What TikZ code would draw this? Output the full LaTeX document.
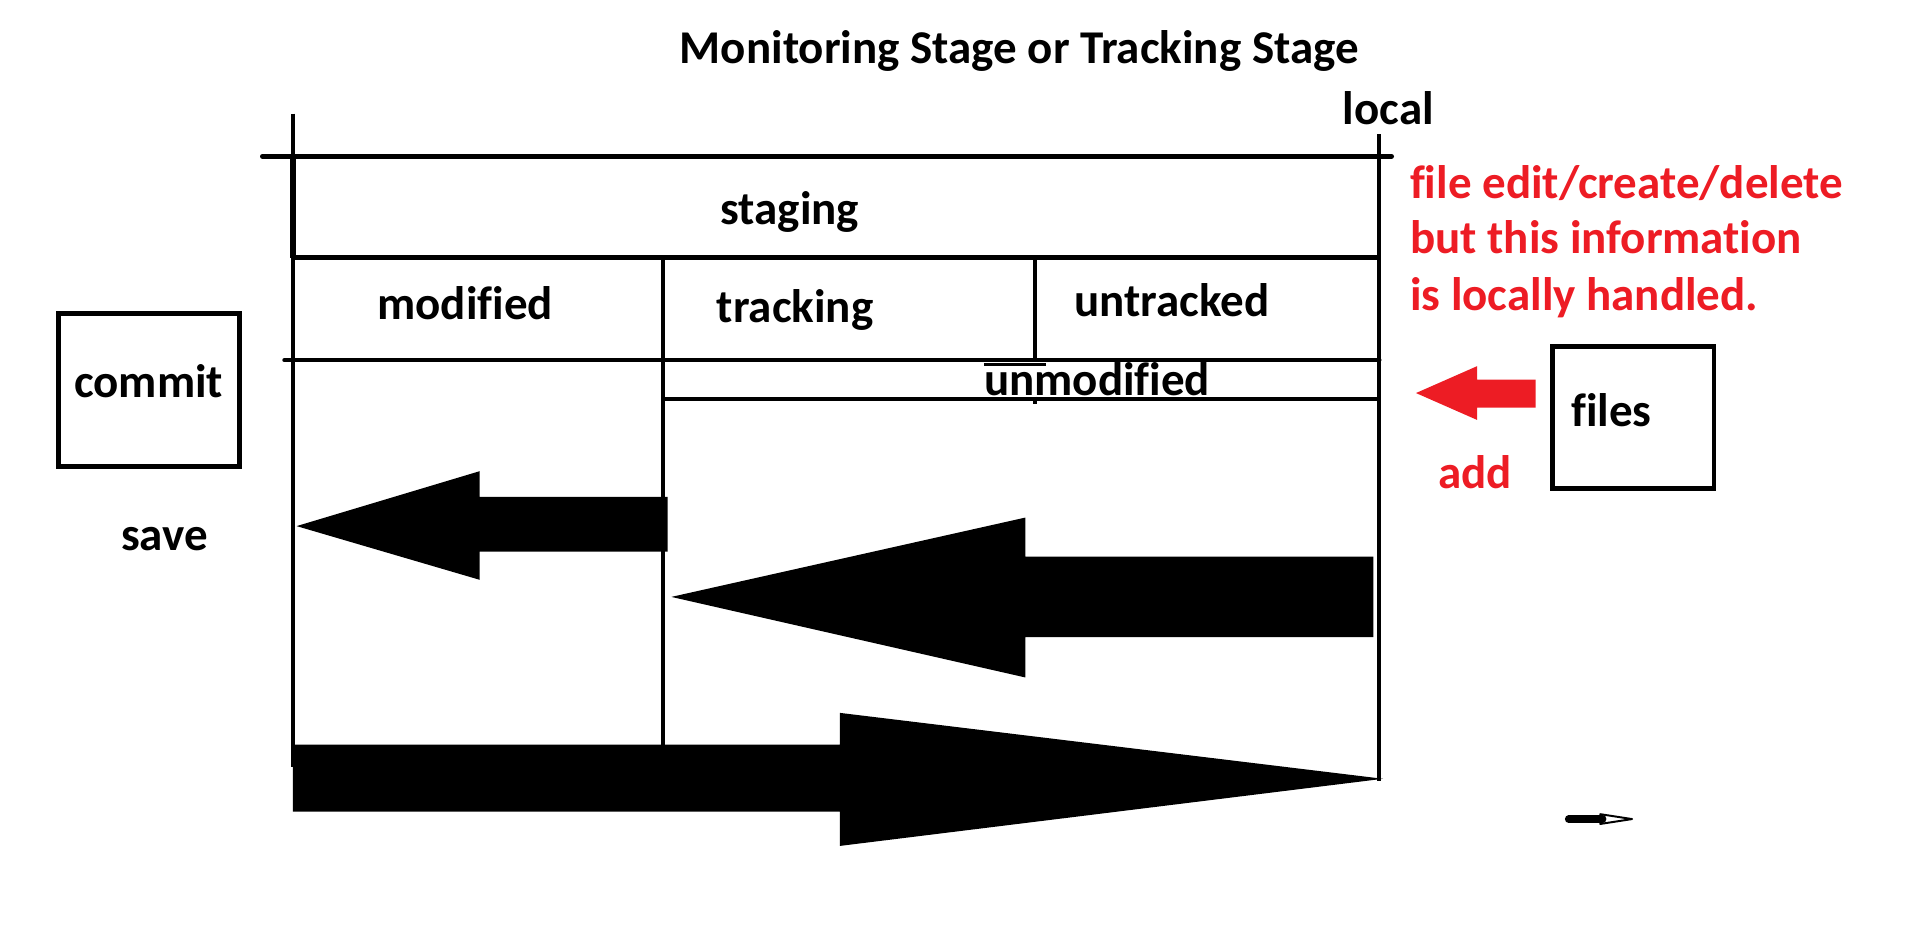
\documentclass[tikz,border=0pt]{standalone}
\usepackage{fontspec}
\usetikzlibrary{calc}
\setmainfont{Carlito}[Ligatures=NoCommon]
\definecolor{pred}{HTML}{ED1C24}
\begin{document}
\begin{tikzpicture}[x=1pt,y=-1pt,
  lbl/.style={font=\fontsize{38.5}{40}\selectfont\bfseries, inner sep=0pt, anchor=base west},
  redlbl/.style={lbl, text=pred},
  ln/.style={line width=3.2pt},
  heavy/.style={line width=4pt},
  boxln/.style={line width=3.8pt},
  fatarrow/.style={fill=black}
]
\useasboundingbox (0,0) rectangle (1568,759);

% texts
\node[lbl, anchor=base] (title) at (835,52) {Monitoring Stage or Tracking Stage};
\node[lbl] (local) at (1100,102) {local};
\node[lbl] (staging) at (590,184) {staging};
\node[lbl] (modified) at (309,262) {modified};
\node[lbl] (tracking) at (587,264) {tracking};
\node[lbl] (untracked) at (880,259) {untracked};
\node[lbl] (unmodified) at (806,324) {unmodified};
\node[lbl] (commit) at (60.6,326) {commit};
\node[lbl] (save) at (99,451) {save};
\node[lbl] (files) at (1287,349) {files};
\node[redlbl] (add) at (1178,400) {add};
\node[redlbl] (red1) at (1155,163) {file edit/create/delete};
\node[redlbl] (red2) at (1155,208) {but this information};
\node[redlbl] (red3) at (1155,254) {is locally handled.};

% frame lines
\draw[ln] (240,93) -- (240,628);
\draw[ln] (1130,110) -- (1130,640);
\draw[heavy, line cap=round] (215,128) -- (1140,128);
\draw[line width=5pt] (240,128) -- (240,211);
\draw[heavy] (240,211) -- (1130,211);
\draw[ln] (543,211) -- (543,610);
\draw[ln] (848,211) -- (848,295);
\draw[ln] (848,325) -- (848,331);
\draw[line width=3.5pt, line cap=round] (233,295) -- (1130,295);
\draw[line width=2.5pt] (806,298.5) -- (857,298.5);
\draw[ln] (543,327) -- (1130,327);

% boxes
\draw[boxln] (47.8,256.6) rectangle (196,382);
\draw[boxln] (1272,284) rectangle (1404,400);

% big arrows
\fill[fatarrow] (243,431) -- (393,386) -- (393,407) -- (547,407) -- (547,452) -- (393,452) -- (393,475) -- cycle;
\fill[fatarrow] (550,489) -- (840,424) -- (840,456) -- (1125,456) -- (1125,522) -- (840,522) -- (840,555) -- cycle;
\fill[fatarrow] (1133,638) -- (688,693) -- (688,665) -- (240,665) -- (240,610) -- (688,610) -- (688,584) -- cycle;
\fill[pred] (1160,322) -- (1210,300) -- (1210,311) -- (1258,311) -- (1258,334) -- (1210,334) -- (1210,344) -- cycle;

% tiny arrow
\coordinate (ta) at (1285,671);
\coordinate (tb) at (1313,671);
\coordinate (tc) at (1337,671);
\draw[line width=6pt, line cap=round] (ta) -- (tb);
\draw[line width=1.6pt, line join=round] ($(tb)+(-2,-4)$) -- (tc) -- ($(tb)+(-2,4)$) -- cycle;
\end{tikzpicture}
\end{document}
